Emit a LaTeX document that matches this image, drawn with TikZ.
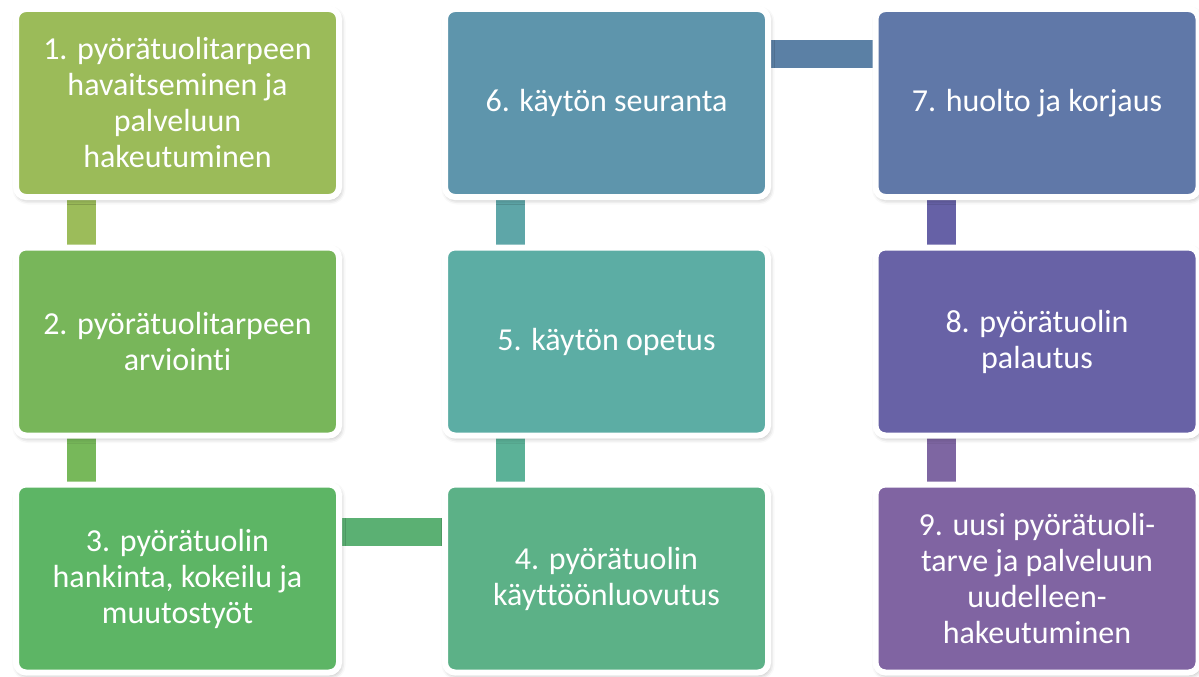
\documentclass[tikz,border=0pt]{standalone}
\usepackage{fontspec}
\setmainfont[Ligatures=CommonOff]{Carlito}
\usetikzlibrary{shadows.blur,backgrounds}
\definecolor{f1}{HTML}{9BBB59}
\definecolor{f2}{HTML}{78B65A}
\definecolor{f3}{HTML}{5DB565}
\definecolor{f4}{HTML}{5CB187}
\definecolor{f5}{HTML}{5CADA4}
\definecolor{f6}{HTML}{5E95AC}
\definecolor{f7}{HTML}{6078A8}
\definecolor{f8}{HTML}{6862A6}
\definecolor{f9}{HTML}{8064A2}
\definecolor{k12}{HTML}{9CBC5A}
\definecolor{k23}{HTML}{77B85A}
\definecolor{k34}{HTML}{5BB073}
\definecolor{k45}{HTML}{5BB197}
\definecolor{k56}{HTML}{5EA6A8}
\definecolor{k67}{HTML}{5B80A5}
\definecolor{k78}{HTML}{6661A6}
\definecolor{k89}{HTML}{7E66A2}
\tikzset{
  stage/.style={rectangle, rounded corners=10pt, draw=white, line width=6pt,
    minimum width=323pt, minimum height=188pt, inner sep=0pt, outer sep=0pt,
    text=white, align=center, font=\fontsize{32}{36}\selectfont,
    blur shadow={shadow xshift=1.5pt, shadow yshift=-2.5pt, shadow blur radius=5pt, shadow opacity=35}},
  vbar/.style={line width=29pt},
  hbar/.style={line width=28pt},
}
\begin{document}
\begin{tikzpicture}[x=1pt,y=-1pt]
\useasboundingbox (0,0) rectangle (1199,677);
\node[stage, fill=f1] (b1) at (177.5,103) {1. pyörätuolitarpeen\\havaitseminen ja\\palveluun\\hakeutuminen};
\node[stage, fill=f2] (b2) at (177.5,341.5) {2. pyörätuolitarpeen\\arviointi};
\node[stage, fill=f3] (b3) at (177.5,578.5) {3. pyörätuolin\\hankinta, kokeilu ja\\muutostyöt};
\node[stage, fill=f4] (b4) at (606.5,578.5) {4. pyörätuolin\\käyttöönluovutus};
\node[stage, fill=f5] (b5) at (606.5,341.5) {5. käytön opetus};
\node[stage, fill=f6] (b6) at (606.5,103) {6. käytön seuranta};
\node[stage, fill=f7] (b7) at (1037,103) {7. huolto ja korjaus};
\node[stage, fill=f8] (b8) at (1037,341.5) {8. pyörätuolin\\palautus};
\node[stage, fill=f9] (b9) at (1037,578.5) {9. uusi pyörätuoli-\\tarve ja palveluun\\uudelleen-\\hakeutuminen};
\begin{scope}[on background layer]
\draw[vbar, k12] ([xshift=65.5pt]b1.south west) -- ([xshift=65.5pt]b2.north west);
\draw[vbar, k23] ([xshift=65.5pt]b2.south west) -- ([xshift=65.5pt]b3.north west);
\draw[hbar, k34] ([yshift=-47pt]b3.north east) -- ([yshift=-47pt]b4.north west);
\draw[vbar, k45] ([xshift=65.5pt]b4.north west) -- ([xshift=65.5pt]b5.south west);
\draw[vbar, k56] ([xshift=65.5pt]b5.north west) -- ([xshift=65.5pt]b6.south west);
\draw[hbar, k67] ([yshift=-45pt]b6.north east) -- ([yshift=-45pt]b7.north west);
\draw[vbar, k78] ([xshift=65.5pt]b7.south west) -- ([xshift=65.5pt]b8.north west);
\draw[vbar, k89] ([xshift=65.5pt]b8.south west) -- ([xshift=65.5pt]b9.north west);
\end{scope}
\end{tikzpicture}
\end{document}
